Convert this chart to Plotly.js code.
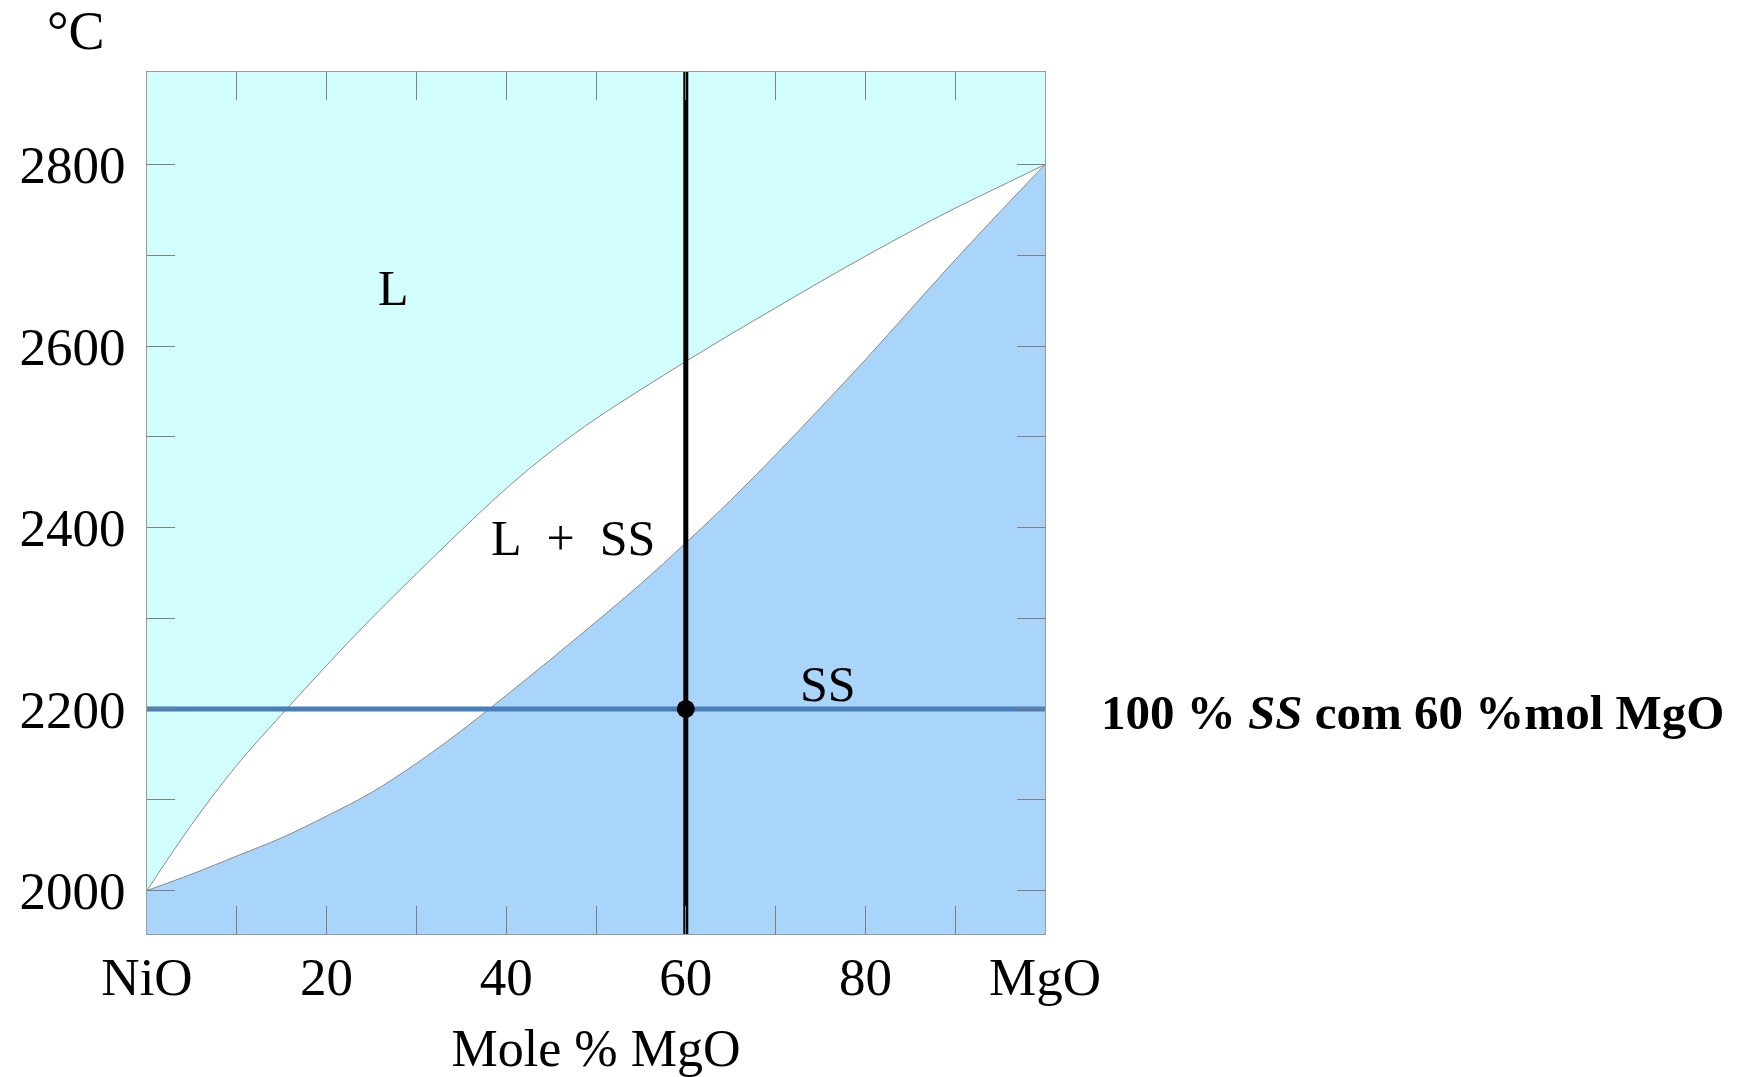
<!DOCTYPE html>
<html>
<head>
<meta charset="utf-8">
<script src="https://cdn.plot.ly/plotly-3.0.1.min.js"></script>
<style>
html,body{margin:0;padding:0;background:#ffffff;}
#chart{width:1747px;height:1077px;}
</style>
</head>
<body>
<div id="chart"></div>
<script>
// Composition (mole % MgO) and phase-boundary temperatures (°C)
const molePctMgO = [0, 5, 10, 15, 20, 25, 30, 35, 40, 45, 50, 55, 60, 65, 70, 75, 80, 85, 90, 95, 100];
const liquidusT  = [2000, 2073, 2138, 2194, 2248, 2300, 2349, 2397, 2443, 2484, 2520, 2552, 2583, 2613, 2642, 2671, 2699, 2726, 2752, 2776, 2800];
const solidusT   = [2000, 2018, 2038, 2058, 2082, 2108, 2140, 2176, 2215, 2255, 2296, 2338, 2383, 2430, 2480, 2532, 2585, 2640, 2695, 2748, 2800];

// Axis ticks
const xTickVals = [0, 10, 20, 30, 40, 50, 60, 70, 80, 90, 100];
const xTickText = ['NiO', '', '20', '', '40', '', '60', '', '80', '', 'MgO'];
const yTickVals = [2000, 2100, 2200, 2300, 2400, 2500, 2600, 2700, 2800];
const yTickText = ['2000', '', '2200', '', '2400', '', '2600', '', '2800'];

// Axis extents
const compRange = [0, 100];
const tempRange = [1952, 2902];

// Region labels
const regionLabels = ['L', 'L&nbsp;&nbsp;+&nbsp;&nbsp;SS', 'SS'];
const regionX = [27.4, 47.4, 75.8];
const regionT = [2664, 2388, 2228];

// Selected state point
const isoComposition = 60;
const isoTemperature = 2200;
const noteText = '<b>100 % <i>SS</i> com 60 %mol MgO</b>';

const serif = 'Liberation Serif, Times New Roman, serif';
const cyanL = '#D1FDFD';
const blueSS = '#AAD5FB';
const boundaryGray = '#8a8a8a';

const traces = [
  { // liquidus: white two-phase region below it
    x: molePctMgO, y: liquidusT, mode: 'lines', type: 'scatter',
    line: {color: boundaryGray, width: 1, shape: 'spline', smoothing: 1}, fill: 'tozeroy', fillcolor: '#ffffff',
    hoverinfo: 'skip'
  },
  { // solidus: solid solution region below it
    x: molePctMgO, y: solidusT, mode: 'lines', type: 'scatter',
    line: {color: boundaryGray, width: 1, shape: 'spline', smoothing: 1}, fill: 'tozeroy', fillcolor: blueSS,
    hoverinfo: 'skip'
  },
  { // isotherm
    x: compRange, y: [isoTemperature, isoTemperature], mode: 'lines', type: 'scatter',
    line: {color: '#4A7EBB', width: 5}, hoverinfo: 'skip'
  },
  { // isopleth
    x: [isoComposition, isoComposition], y: tempRange, mode: 'lines', type: 'scatter',
    line: {color: '#000000', width: 5}, hoverinfo: 'skip'
  },
  { // state point
    x: [isoComposition], y: [isoTemperature], mode: 'markers', type: 'scatter',
    marker: {color: '#000000', size: 18}, hoverinfo: 'skip'
  }
];

const annotations = regionLabels.map((t, i) => ({
  x: regionX[i], y: regionT[i], xref: 'x', yref: 'y', text: t, showarrow: false,
  font: {family: serif, size: 50, color: '#000'}, xanchor: 'center', yanchor: 'middle'
}));
annotations.push({
  x: 1.06, y: isoTemperature, xref: 'paper', yref: 'y', text: noteText, showarrow: false,
  font: {family: serif, size: 49, color: '#000'}, xanchor: 'left', yanchor: 'middle', yshift: -4
});
annotations.push({
  x: -0.079, y: 1.048, xref: 'paper', yref: 'paper', text: '°C', showarrow: false,
  font: {family: serif, size: 54, color: '#000'}, xanchor: 'center', yanchor: 'middle'
});

const axisCommon = {
  tickmode: 'array', ticks: 'inside', ticklen: 28, tickwidth: 1, tickcolor: '#808080',
  showline: true, linecolor: '#9a9a9a', linewidth: 1, mirror: 'allticks',
  showgrid: false, zeroline: false,
  tickfont: {family: serif, size: 53, color: '#000'}
};

const layout = {
  width: 1747, height: 1077,
  margin: {l: 147, r: 702, t: 72, b: 143, pad: 0},
  paper_bgcolor: '#ffffff', plot_bgcolor: cyanL,
  showlegend: false,
  xaxis: Object.assign({}, axisCommon, {
    range: compRange, tickvals: xTickVals, ticktext: xTickText, ticklabelstandoff: -4,
    title: {text: 'Mole % MgO', font: {family: serif, size: 52, color: '#000'}, standoff: 28}
  }),
  yaxis: Object.assign({}, axisCommon, {
    range: tempRange, tickvals: yTickVals, ticktext: yTickText, ticklabelstandoff: 10
  }),
  annotations: annotations
};

Plotly.newPlot('chart', traces, layout, {displayModeBar: false, staticPlot: true});
</script>
</body>
</html>
